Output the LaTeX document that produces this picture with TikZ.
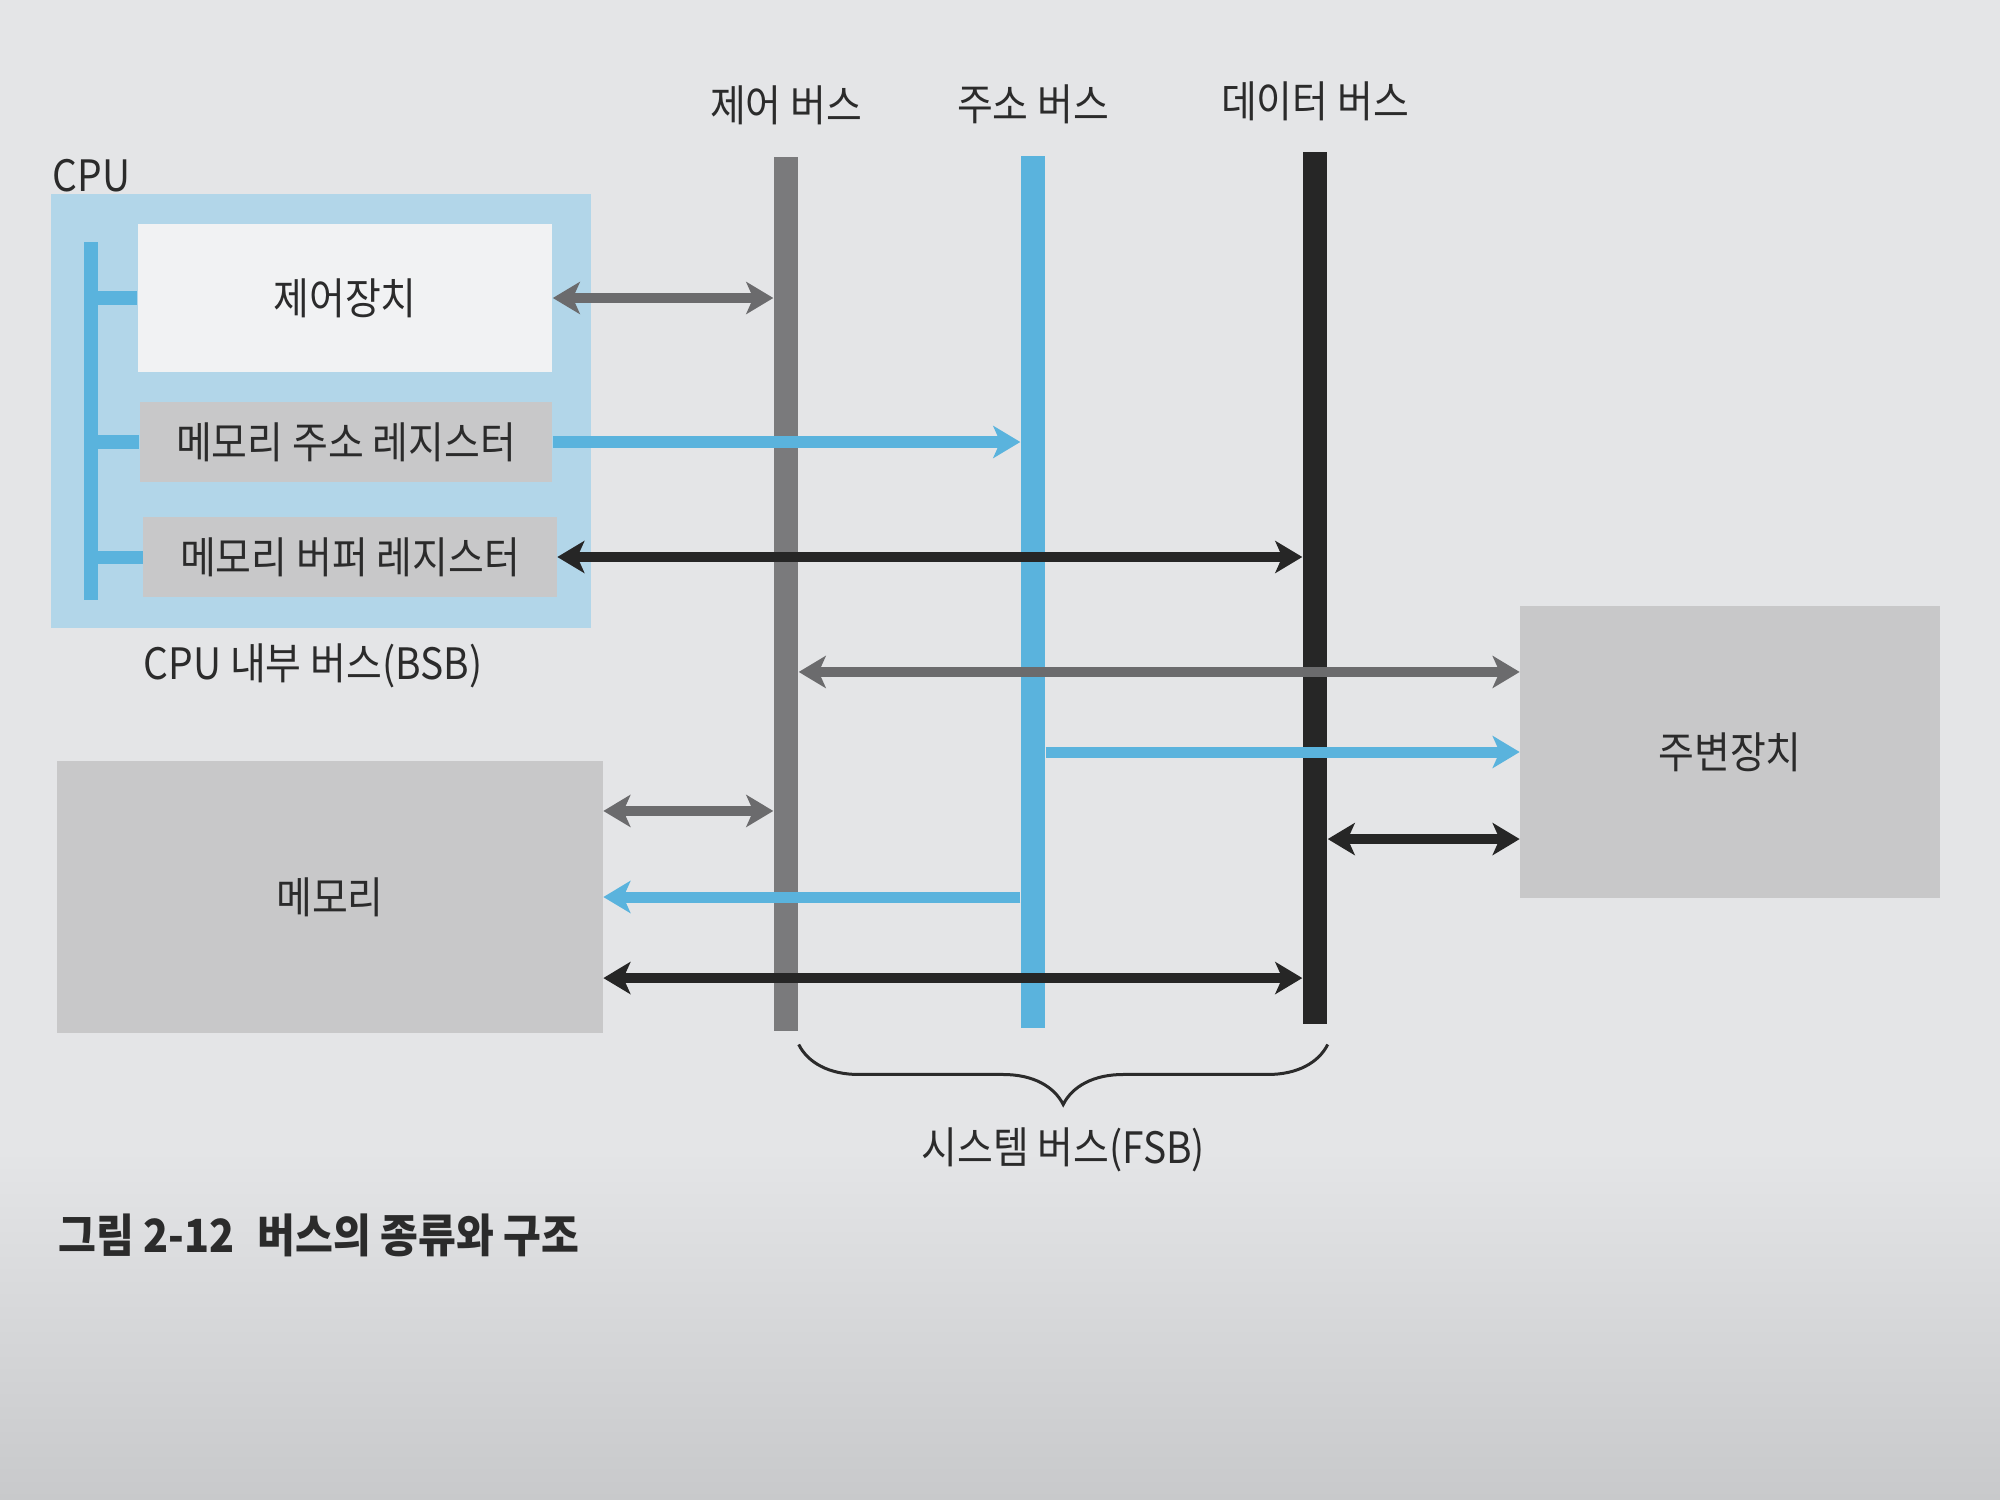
\documentclass[tikz,border=0pt]{standalone}
\usepackage{fontspec}
\setmainfont{Noto Sans CJK KR}[FakeStretch=0.9]
\usepackage{tikz}
\usetikzlibrary{arrows.meta,positioning,calc,decorations.pathreplacing}
\definecolor{paper}{HTML}{E4E5E7}
\definecolor{paperdark}{HTML}{C8C9CB}
\definecolor{cpubg}{HTML}{B2D6E9}
\definecolor{busblue}{HTML}{5AB3DD}
\definecolor{busgray}{HTML}{7A7A7C}
\definecolor{arrgray}{HTML}{6B6B6D}
\definecolor{busblack}{HTML}{262626}
\definecolor{regfill}{HTML}{C8C8C9}
\definecolor{unitfill}{HTML}{F1F2F3}
\definecolor{ink}{HTML}{2B2B2B}
\newcommand{\labfont}{\fontsize{12.3}{14}\selectfont}
\tikzset{
  unit/.style={inner sep=0pt,text=ink,font=\labfont},
  bus/.style={fill=#1,inner sep=0pt,minimum width=0.24cm},
  link/.style={line width=0.11cm,draw=#1,-{Stealth[length=0.27cm,width=0.32cm,inset=0.07cm]}},
  dlink/.style={line width=0.1cm,draw=#1,{Stealth[length=0.27cm,width=0.32cm,inset=0.07cm]}-{Stealth[length=0.27cm,width=0.32cm,inset=0.07cm]}},
  tick/.style={line width=0.13cm,draw=busblue},
  fsbbrace/.style={decorate,decoration={brace,amplitude=0.6cm},line width=0.03cm,draw=ink},
  caption/.style={inner sep=0pt,text=ink,font=\fontsize{13}{15}\selectfont\bfseries}
}

\begin{document}
\begin{tikzpicture}[x=0.01cm,y=-0.01cm]
\useasboundingbox (0,0) rectangle (2000,1500);
\fill[paper] (0,0) rectangle (2000,1500);
\shade[top color=paper,bottom color=paperdark] (0,1150) rectangle (2000,1500);

\node[fill=cpubg,inner sep=0pt,minimum width=5.40cm,minimum height=4.34cm] (cpu) at (321,411) {};
\node[unit,anchor=west] (cpulbl) at (52,176) {CPU};
\node[unit,fill=unitfill,minimum width=4.14cm,minimum height=1.48cm] (cu) at (345,298) {제어장치};
\node[unit,fill=regfill,minimum width=4.12cm,minimum height=0.80cm] (mar) at (346,442) {메모리 주소 레지스터};
\node[unit,fill=regfill,minimum width=4.13cm,minimum height=0.80cm] (mbr) at (350,557) {메모리 버퍼 레지스터};
\node[bus=busblue,minimum width=0.13cm,minimum height=3.58cm] (ibus) at (91,421) {};
\foreach \n in {cu,mar,mbr}
  \draw[tick] (ibus.center |- \n.west) -- (\n.west);
\node[unit] (bsb) at (313,666) {CPU 내부 버스(BSB)};

\node[unit,fill=regfill,minimum width=5.45cm,minimum height=2.72cm] (mem) at (330,897) {메모리};
\node[unit,fill=regfill,minimum width=4.19cm,minimum height=2.91cm] (per) at (1730,752) {주변장치};

\node[bus=busgray,minimum height=8.74cm] (cbus) at (786,594) {};
\node[bus=busblue,minimum height=8.72cm] (abus) at (1033,592) {};
\node[bus=busblack,minimum height=8.71cm] (dbus) at (1315,588) {};
\node[unit,above=0.3cm of cbus] (cbuslbl) {제어 버스};
\node[unit,above=0.3cm of abus] (abuslbl) {주소 버스};
\node[unit,above=0.3cm of dbus] (dbuslbl) {데이터 버스};

\coordinate (pc) at ([yshift=0.8cm]per.west);
\coordinate (pd) at ([yshift=-0.87cm]per.west);
\coordinate (mc) at ([yshift=0.86cm]mem.east);
\coordinate (md) at ([yshift=-0.81cm]mem.east);

\draw[dlink=arrgray] (cu.east) -- (cu.east -| cbus.west);
\draw[link=busblue] (mar.east) -- (mar.east -| abus.west);
\draw[dlink=busblack] (mbr.east) -- (mbr.east -| dbus.west);
\draw[dlink=arrgray] (pc -| cbus.east) -- (pc);
\draw[link=busblue] (per.west -| abus.east) -- (per.west);
\draw[dlink=busblack] (pd -| dbus.east) -- (pd);
\draw[dlink=arrgray] (mc) -- (mc -| cbus.west);
\draw[link=busblue] (mem.east -| abus.west) -- (mem.east);
\draw[dlink=busblack] (md) -- (md -| dbus.west);

\draw[fsbbrace] ([yshift=-0.2cm]dbus.south east) -- node[unit,below=0.82cm] (fsb) {시스템 버스(FSB)} ([yshift=-0.2cm]dbus.south east -| cbus.east);

\node[caption,anchor=west] (cap) at (58,1235) {그림 2-12\hspace{0.3em} 버스의 종류와 구조};
\end{tikzpicture}
\end{document}
